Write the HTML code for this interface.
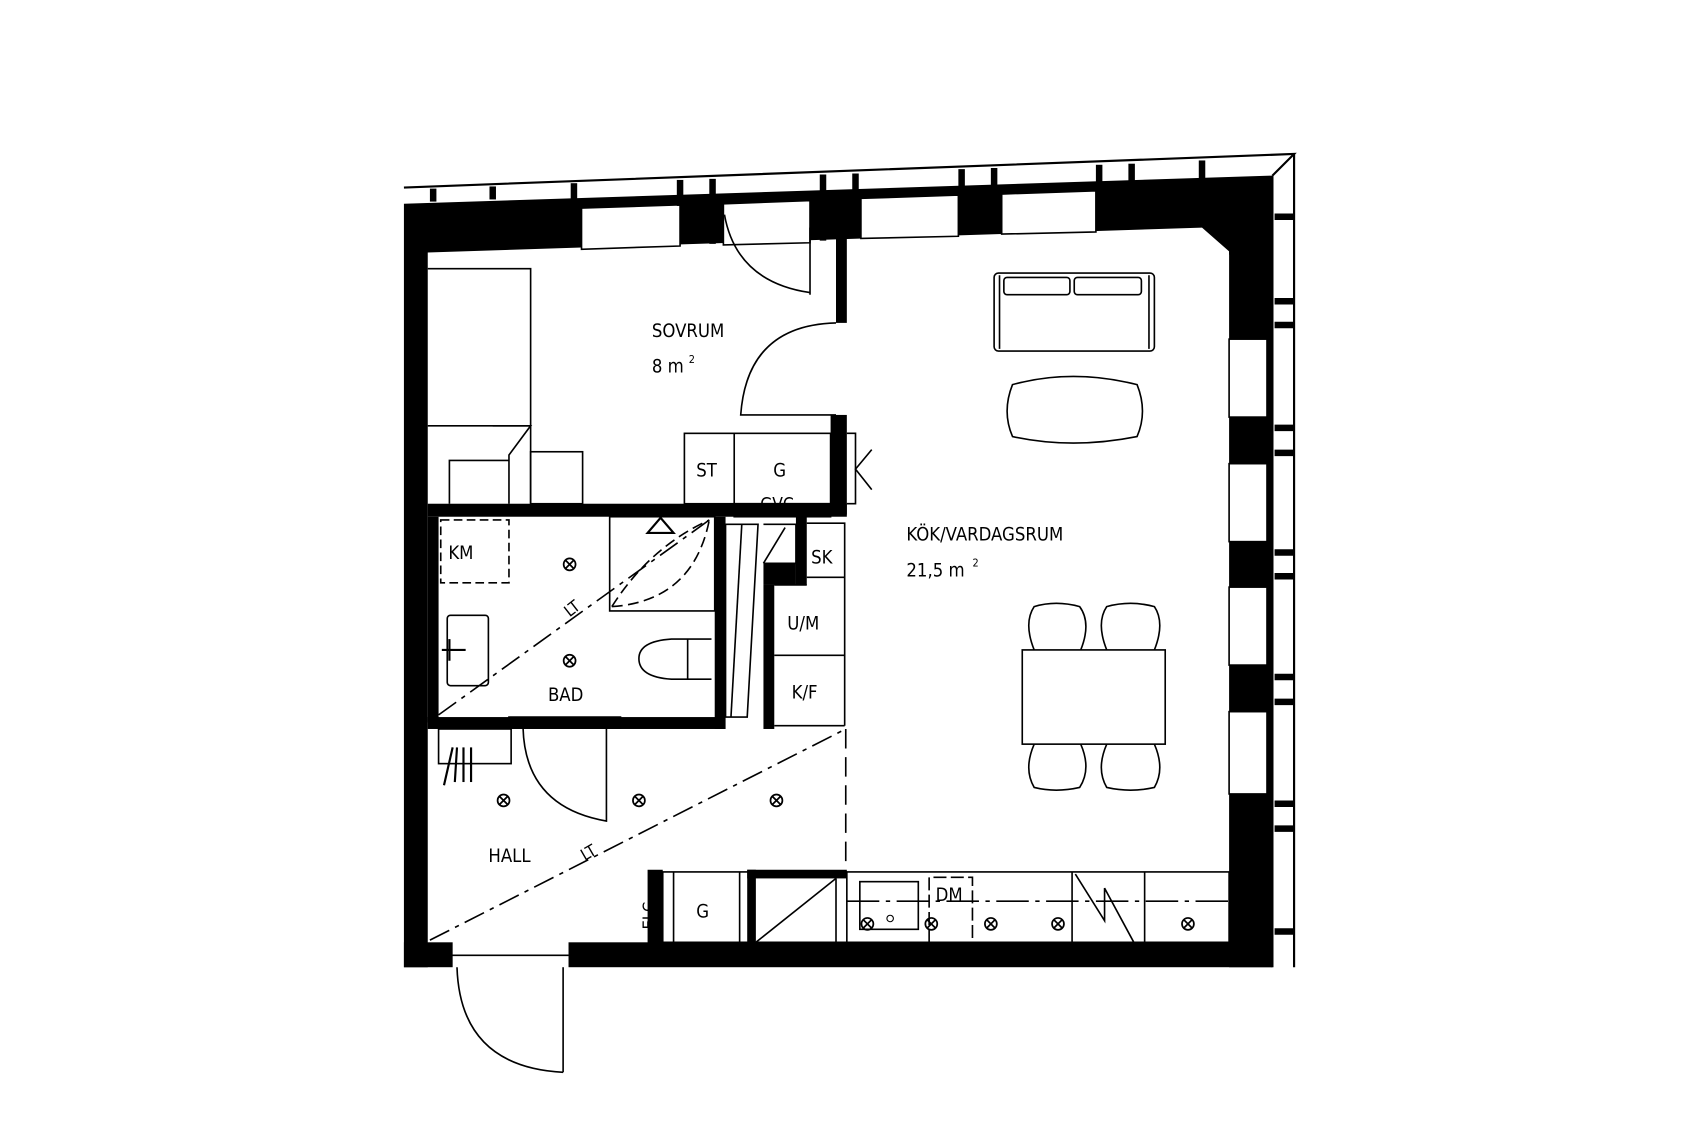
<!DOCTYPE html>
<html><head><style>html,body{margin:0;padding:0;background:#fff}svg{display:block}</style></head>
<body>
<svg width="1698" height="1132" viewBox="0 0 1568 1045" xmlns="http://www.w3.org/2000/svg" font-family="'DejaVu Sans Condensed','Liberation Sans Narrow','Liberation Sans',sans-serif" font-size="17">
<defs>
<g id="x" fill="none" stroke="#000" stroke-width="1.6"><circle cx="0" cy="0" r="5.5"/><line x1="-4" y1="-4" x2="4" y2="4"/><line x1="-4" y1="4" x2="4" y2="-4"/></g>
</defs>
<g fill="#000">
<polygon points="373,188 1175,162 1175,235 1135,235 1135,232 1110,210 395,233 395,893 373,893"/>
<rect x="1135" y="200" width="40" height="693"/>
<rect x="373" y="870" width="45" height="23"/>
<rect x="525" y="870" width="650" height="23"/>
<rect x="598" y="803" width="14" height="70"/>
<rect x="772" y="215" width="10" height="83"/>
<rect x="767" y="383" width="15" height="92"/>
<rect x="395" y="465" width="387" height="12"/>
<rect x="395" y="477" width="10" height="190"/>
<rect x="395" y="662" width="275" height="11"/>
<rect x="660" y="477" width="10" height="196"/>
<rect x="705" y="540" width="10" height="133"/>
<rect x="705" y="520" width="30" height="20"/>
<rect x="735" y="477" width="10" height="63"/>
<rect x="690" y="803" width="92" height="8"/>
<rect x="690" y="803" width="8" height="68"/>
</g>
<g fill="#fff" stroke="#000" stroke-width="1.5">
<polygon points="537,192 628,189 628,227 537,230"/>
<polygon points="668,188 748,185 748,224 668,226"/>
<polygon points="795,183 885,180 885,218 795,220"/>
<polygon points="925,179 1012,176 1012,214 925,216"/>
<rect x="1135" y="313" width="35" height="72"/>
<rect x="1135" y="428" width="35" height="72"/>
<rect x="1135" y="542" width="35" height="72"/>
<rect x="1135" y="657" width="35" height="76"/>
</g>
<g fill="none" stroke="#000" stroke-width="2">
<polyline points="373,173 1195,142 1175,162"/>
<line x1="1195" y1="142" x2="1195" y2="893"/>
<line x1="1175" y1="162" x2="1175" y2="893"/>
</g>
<g stroke="#000" stroke-width="6">
<line x1="400" y1="174" x2="400" y2="186"/><line x1="455" y1="172" x2="455" y2="184"/>
<line x1="530" y1="169" x2="530" y2="190"/><line x1="628" y1="166" x2="628" y2="190"/>
<line x1="658" y1="165" x2="658" y2="225"/><line x1="760" y1="161" x2="760" y2="222"/>
<line x1="790" y1="160" x2="790" y2="218"/><line x1="888" y1="156" x2="888" y2="215"/>
<line x1="918" y1="155" x2="918" y2="214"/><line x1="1015" y1="152" x2="1015" y2="180"/>
<line x1="1045" y1="151" x2="1045" y2="172"/><line x1="1110" y1="148" x2="1110" y2="170"/>
<line x1="1177" y1="200" x2="1195" y2="200"/><line x1="1177" y1="278" x2="1195" y2="278"/>
<line x1="1177" y1="300" x2="1195" y2="300"/><line x1="1177" y1="395" x2="1195" y2="395"/>
<line x1="1177" y1="418" x2="1195" y2="418"/><line x1="1177" y1="510" x2="1195" y2="510"/>
<line x1="1177" y1="532" x2="1195" y2="532"/><line x1="1177" y1="625" x2="1195" y2="625"/>
<line x1="1177" y1="648" x2="1195" y2="648"/><line x1="1177" y1="742" x2="1195" y2="742"/>
<line x1="1177" y1="765" x2="1195" y2="765"/><line x1="1177" y1="860" x2="1195" y2="860"/>
</g>
<g fill="none" stroke="#000" stroke-width="1.5">
<polyline points="395,248 490,248 490,465"/>
<polyline points="395,393 455,393 470,393 490,393"/>
<polyline points="455,393 490,393 470,420 470,465"/>
<polyline points="415,465 415,425 470,425"/>
<rect x="490" y="417" width="48" height="48"/>
<path d="M669,198 Q680,260 748,270"/>
<line x1="748" y1="210" x2="748" y2="272"/>
<path d="M772,298 Q690,300 684,383 L772,383"/>
<rect x="632" y="400" width="135" height="65"/>
<line x1="678" y1="400" x2="678" y2="465"/>
<rect x="678" y="465" width="89" height="12"/>
<polyline points="782,400 790,400 790,465 782,465"/>
<polyline points="805,415 790,433 805,452"/>
<rect x="918" y="252" width="148" height="72" rx="4"/>
<rect x="927" y="256" width="61" height="16" rx="3"/>
<rect x="992" y="256" width="62" height="16" rx="3"/>
<line x1="923" y1="254" x2="923" y2="322"/><line x1="1061" y1="254" x2="1061" y2="322"/>
<path d="M935,355 Q990,340 1050,355 Q1060,380 1050,403 Q990,415 935,403 Q925,380 935,355Z"/>
<rect x="944" y="600" width="132" height="87"/>
<path d="M955,600 Q945,575 955,560 Q975,554 997,560 Q1008,575 998,600"/>
<path d="M1022,600 Q1012,575 1022,560 Q1044,554 1066,560 Q1076,575 1066,600"/>
<path d="M955,687 Q945,710 955,727 Q975,732 997,727 Q1008,710 998,687"/>
<path d="M1022,687 Q1012,710 1022,727 Q1044,732 1066,727 Q1076,710 1066,687"/>
<rect x="407" y="480" width="63" height="58" stroke-dasharray="8,4"/>
<rect x="563" y="477" width="97" height="87"/>
<path d="M565,560 Q600,505 655,480" stroke-dasharray="10,5"/>
<path d="M565,560 Q640,555 655,480" stroke-dasharray="10,5"/>
<rect x="413" y="568" width="38" height="65" rx="3"/>
<path d="M657,590 L620,590 Q590,592 590,608 Q590,625 620,627 L657,627"/>
<line x1="635" y1="590" x2="635" y2="627"/>
<polygon points="670,484 700,484 690,662 670,662"/>
<line x1="685" y1="484" x2="675" y2="662"/>
<polyline points="705,484 735,484 735,520 705,520"/>
<line x1="705" y1="520" x2="725" y2="487"/>
<polyline points="745,483 780,483 780,670"/>
<line x1="745" y1="533" x2="780" y2="533"/>
<line x1="715" y1="605" x2="780" y2="605"/>
<line x1="715" y1="540" x2="745" y2="540"/>
<line x1="715" y1="670" x2="780" y2="670"/>
<line x1="781" y1="673" x2="781" y2="803" stroke-dasharray="18,8"/>
<rect x="470" y="662" width="103" height="10"/>
<path d="M483,672 Q485,745 560,758 L560,672"/>
<rect x="405" y="673" width="67" height="32"/>
<path d="M422,893 Q425,985 520,990"/>
<line x1="520" y1="893" x2="520" y2="990"/>
<line x1="416" y1="882" x2="525" y2="882"/>
<rect x="612" y="805" width="523" height="65"/>
<line x1="622" y1="805" x2="622" y2="870"/>
<line x1="683" y1="805" x2="683" y2="870"/>
<line x1="698" y1="870" x2="772" y2="811"/>
<line x1="772" y1="811" x2="772" y2="870"/>
<line x1="782" y1="805" x2="782" y2="870"/>
<line x1="782" y1="832" x2="1135" y2="832" stroke-dasharray="30,6,4,6"/>
<rect x="794" y="814" width="54" height="44"/>
<polyline points="858,870 858,810 898,810 898,870" stroke-dasharray="12,4"/>
<line x1="990" y1="805" x2="990" y2="870"/>
<line x1="1057" y1="805" x2="1057" y2="870"/>
<polyline points="993,807 1020,850 1020,820 1047,870"/>
<line x1="405" y1="660" x2="655" y2="480" stroke-dasharray="20,6,4,6"/>
<line x1="397" y1="868" x2="781" y2="673" stroke-dasharray="20,6,4,6"/>
</g>
<g stroke="#000" stroke-width="2" fill="none">
<line x1="408" y1="600" x2="430" y2="600"/><line x1="415" y1="590" x2="415" y2="610"/>
<line x1="410" y1="725" x2="418" y2="690"/><line x1="420" y1="722" x2="422" y2="690"/><line x1="428" y1="722" x2="428" y2="690"/><line x1="435" y1="722" x2="435" y2="690"/>
<path d="M598,492 L610,478 L622,492 Z"/>
</g>
<use href="#x" x="526" y="521"/><use href="#x" x="526" y="610"/>
<use href="#x" x="465" y="739"/><use href="#x" x="590" y="739"/><use href="#x" x="717" y="739"/>
<use href="#x" x="801" y="853"/><use href="#x" x="860" y="853"/><use href="#x" x="915" y="853"/><use href="#x" x="977" y="853"/><use href="#x" x="1097" y="853"/>
<circle cx="822" cy="848" r="3" fill="none" stroke="#000"/>
<g fill="#000">
<text x="602" y="311">SOVRUM</text>
<text x="602" y="344">8 m</text><text x="636" y="335" font-size="10">2</text>
<text x="643" y="440">ST</text>
<text x="714" y="440">G</text>
<text x="702" y="471" font-size="16">GVC</text>
<text x="837" y="499">KÖK/VARDAGSRUM</text>
<text x="837" y="532">21,5 m</text><text x="898" y="523" font-size="10">2</text>
<text x="414" y="516">KM</text>
<text x="749" y="520">SK</text>
<text x="727" y="581">U/M</text>
<text x="731" y="645">K/F</text>
<text x="506" y="647">BAD</text>
<text x="451" y="796">HALL</text>
<text x="643" y="847">G</text>
<text x="864" y="832">DM</text>
<text x="0" y="0" transform="translate(526,570) rotate(-38)" font-size="15">LT</text>
<text x="0" y="0" transform="translate(540,795) rotate(-30)" font-size="15">LT</text>
<text x="0" y="0" transform="translate(604,858) rotate(-90)" font-size="15">ELC</text>
</g>
</svg>
</body></html>
